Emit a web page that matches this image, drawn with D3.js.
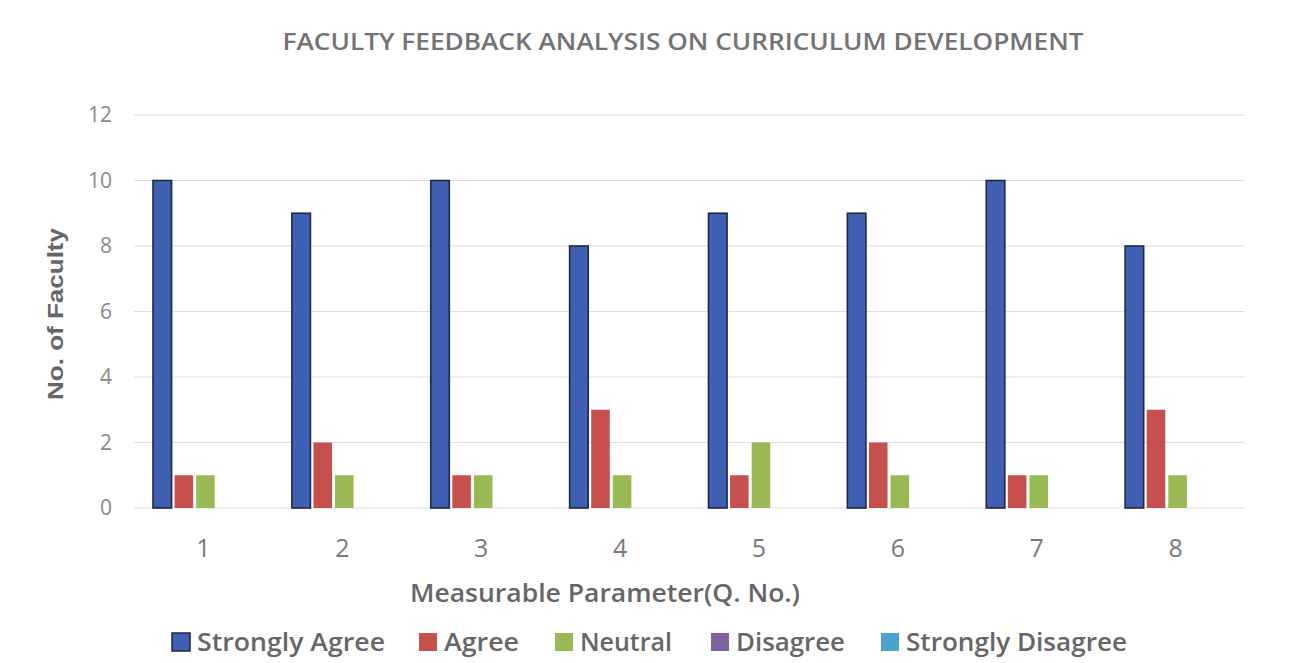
<!DOCTYPE html>
<html>
<head>
<meta charset="utf-8">
<script src="https://cdn.jsdelivr.net/npm/d3@7"></script>
<style>
  body { margin: 0; background: #fff; }
  text { font-family: "Open Sans", "Liberation Sans", sans-serif; }
</style>
</head>
<body>
<svg id="chart"></svg>
<script>
// chart size
var width = 1307;
var height = 663;

// data
var questions = ["1", "2", "3", "4", "5", "6", "7", "8"];
var seriesNames = ["Strongly Agree", "Agree", "Neutral", "Disagree", "Strongly Disagree"];
var stronglyAgree = [10, 9, 10, 8, 9, 9, 10, 8];
var agree = [1, 2, 1, 3, 1, 2, 1, 3];
var neutral = [1, 1, 1, 1, 2, 1, 1, 1];
var disagree = [0, 0, 0, 0, 0, 0, 0, 0];
var stronglyDisagree = [0, 0, 0, 0, 0, 0, 0, 0];
var yTicks = [0, 2, 4, 6, 8, 10, 12];

var seriesValues = [stronglyAgree, agree, neutral, disagree, stronglyDisagree];
var colors = ["#3f5fb2", "#c5504c", "#98b954", "#7e62a0", "#4aa3cc"];

var margin = { top: 115, right: 62, bottom: 155, left: 134 };

var svg = d3.select("#chart")
    .attr("width", width)
    .attr("height", height);

var x0 = d3.scaleBand()
    .domain(questions)
    .range([margin.left, width - margin.right]);

var x1 = d3.scaleBand()
    .domain(d3.range(seriesNames.length))
    .range([19, x0.bandwidth() - 15])
    .paddingInner(0.14);

var y = d3.scaleLinear()
    .domain([0, 12])
    .range([height - margin.bottom, margin.top]);

// gridlines
svg.append("g")
    .selectAll("line")
    .data(yTicks)
    .join("line")
    .attr("x1", margin.left)
    .attr("x2", width - margin.right)
    .attr("y1", d => y(d))
    .attr("y2", d => y(d))
    .attr("stroke", "#dcdfe6")
    .attr("stroke-width", 1.2);

// y tick labels
svg.append("g")
    .selectAll("text")
    .data(yTicks)
    .join("text")
    .attr("x", 112)
    .attr("y", d => y(d))
    .attr("dy", "0.35em")
    .attr("text-anchor", "end")
    .attr("fill", "#8a8a8a")
    .style("font-size", "21px")
    .text(d => d);

// x tick labels
svg.append("g")
    .selectAll("text")
    .data(questions)
    .join("text")
    .attr("x", d => x0(d) + x0.bandwidth() / 2)
    .attr("y", 548)
    .attr("dy", "0.35em")
    .attr("text-anchor", "middle")
    .attr("fill", "#7a7a7a")
    .style("font-size", "25px")
    .text(d => d);

// bars
var groups = svg.append("g")
    .selectAll("g")
    .data(questions)
    .join("g")
    .attr("transform", d => "translate(" + x0(d) + ",0)");

groups.selectAll("rect")
    .data((q, qi) => seriesValues.map((vals, si) => ({ si: si, v: vals[qi] })))
    .join("rect")
    .filter(d => d.v > 0)
    .attr("x", d => x1(d.si))
    .attr("width", x1.bandwidth())
    .attr("y", d => y(d.v))
    .attr("height", d => y(0) - y(d.v))
    .attr("fill", d => colors[d.si])
    .attr("stroke", d => d.si === 0 ? "#1d2842" : "none")
    .attr("stroke-width", 1.6);

// title
svg.append("text")
    .attr("x", 683)
    .attr("y", 42)
    .attr("dy", "0.35em")
    .attr("text-anchor", "middle")
    .attr("textLength", 801)
    .attr("lengthAdjust", "spacingAndGlyphs")
    .attr("fill", "#737373")
    .style("font-size", "23px")
    .style("font-weight", "600")
    .text("FACULTY FEEDBACK ANALYSIS ON CURRICULUM DEVELOPMENT");

// axis titles
svg.append("text")
    .attr("x", 605)
    .attr("y", 593)
    .attr("dy", "0.35em")
    .attr("text-anchor", "middle")
    .attr("textLength", 390)
    .attr("lengthAdjust", "spacingAndGlyphs")
    .attr("fill", "#666")
    .style("font-size", "25px")
    .style("font-weight", "600")
    .text("Measurable Parameter(Q. No.)");

svg.append("text")
    .attr("transform", "translate(55,314) rotate(-90)")
    .attr("dy", "0.35em")
    .attr("text-anchor", "middle")
    .attr("textLength", 172)
    .attr("lengthAdjust", "spacingAndGlyphs")
    .attr("fill", "#666")
    .style("font-family", "'Liberation Sans', sans-serif")
    .style("font-size", "22px")
    .style("font-weight", "700")
    .text("No. of Faculty");

// legend
var legendX = [172, 419, 555, 711, 881];
var legendW = [188, 75, 92, 109, 221];
var legend = svg.append("g")
    .selectAll("g")
    .data(seriesNames)
    .join("g")
    .attr("transform", (d, i) => "translate(" + legendX[i] + ",642)");

legend.append("rect")
    .attr("x", 0)
    .attr("y", -9)
    .attr("width", 18)
    .attr("height", 18)
    .attr("fill", (d, i) => colors[i])
    .attr("stroke", (d, i) => i === 0 ? "#1d2842" : "none")
    .attr("stroke-width", 1.5);

legend.append("text")
    .attr("x", 25)
    .attr("y", 0)
    .attr("dy", "0.35em")
    .attr("textLength", (d, i) => legendW[i])
    .attr("lengthAdjust", "spacingAndGlyphs")
    .attr("fill", "#666")
    .style("font-size", "25px")
    .style("font-weight", "600")
    .text(d => d);
</script>
</body>
</html>
